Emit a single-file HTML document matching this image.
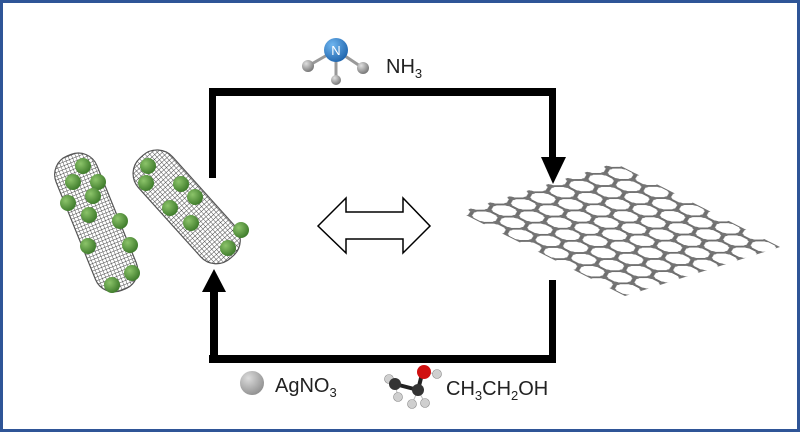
<!DOCTYPE html>
<html><head><meta charset="utf-8"><style>
html,body{margin:0;padding:0;background:#fff}
svg{display:block}
</style></head><body>
<svg width="800" height="432" viewBox="0 0 800 432" xmlns="http://www.w3.org/2000/svg">
<defs>
<pattern id="hex" patternUnits="userSpaceOnUse" width="12.5" height="21.65" x="0" y="2">
<g stroke="#6e6e6e" stroke-width="1.8" fill="none">
<path d="M0,3.61 L6.25,0 L12.5,3.61 M0,3.61 L0,10.83 M12.5,3.61 L12.5,10.83 M0,10.83 L6.25,14.44 L12.5,10.83 M6.25,14.44 L6.25,21.65"/>
</g>
<g fill="#747474">
<circle cx="0" cy="3.61" r="1.8"/><circle cx="12.5" cy="3.61" r="1.8"/><circle cx="6.25" cy="0" r="1.8"/><circle cx="6.25" cy="21.65" r="1.8"/>
<circle cx="0" cy="10.83" r="1.8"/><circle cx="12.5" cy="10.83" r="1.8"/><circle cx="6.25" cy="14.44" r="1.8"/>
</g>
</pattern>
<pattern id="mesh" patternUnits="userSpaceOnUse" width="3.5" height="3.5">
<path d="M0,0 L3.5,0 M0,0 L0,3.5" stroke="#444" stroke-width="0.9"/>
</pattern>
<radialGradient id="g" cx="0.35" cy="0.35" r="0.7"><stop offset="0" stop-color="#8cc46a"/><stop offset="1" stop-color="#3d7a2a"/></radialGradient>
<radialGradient id="ag" cx="0.35" cy="0.3" r="0.8"><stop offset="0" stop-color="#dcdcdc"/><stop offset="1" stop-color="#8a8a8a"/></radialGradient>
<radialGradient id="nb" cx="0.35" cy="0.3" r="0.8"><stop offset="0" stop-color="#6fb6f0"/><stop offset="1" stop-color="#1a5fa8"/></radialGradient>
<radialGradient id="hb" cx="0.35" cy="0.3" r="0.8"><stop offset="0" stop-color="#e0e0e0"/><stop offset="1" stop-color="#6b6b6b"/></radialGradient>
</defs>
<rect x="1.5" y="1.5" width="797" height="429" fill="#fff" stroke="#2f5597" stroke-width="3"/>

<g fill="#000">
<rect x="209" y="88" width="347" height="8"/>
<rect x="209" y="88" width="7" height="90"/>
<rect x="549" y="88" width="7" height="72"/>
<polygon points="541,157 566,157 553,184"/>
<rect x="549" y="280" width="7" height="83"/>
<rect x="209" y="355" width="347" height="8"/>
<rect x="210" y="288" width="8" height="75"/>
<polygon points="202,292 226,292 214,269"/>
</g>

<polygon points="318,226 346,198 346,212 403,212 403,198 430,226 403,253 403,239 346,239 346,253" fill="#fff" stroke="#000" stroke-width="1.5"/>

<g transform="matrix(1.55,-0.49,1.65,0.84,460,212)">
<rect x="0" y="0" width="100" height="100" fill="url(#hex)"/>
</g>

<g transform="rotate(-22 96 222)">
<rect x="74" y="150" width="44" height="145" rx="20" fill="url(#mesh)" stroke="#555" stroke-width="1.2"/>
</g>
<g transform="rotate(-42 185 205)">
<rect x="162" y="140" width="46" height="135" rx="21" fill="url(#mesh)" stroke="#555" stroke-width="1.2"/>
</g>
<g fill="url(#g)">
<circle cx="83" cy="166" r="8"/><circle cx="73" cy="182" r="8"/><circle cx="98" cy="182" r="8"/><circle cx="93" cy="196" r="8"/><circle cx="68" cy="203" r="8"/><circle cx="89" cy="215" r="8"/><circle cx="120" cy="221" r="8"/><circle cx="88" cy="246" r="8"/><circle cx="130" cy="245" r="8"/><circle cx="132" cy="273" r="8"/><circle cx="112" cy="285" r="8"/>
<circle cx="148" cy="166" r="8"/><circle cx="146" cy="183" r="8"/><circle cx="181" cy="184" r="8"/><circle cx="195" cy="197" r="8"/><circle cx="170" cy="208" r="8"/><circle cx="191" cy="223" r="8"/><circle cx="241" cy="230" r="8"/><circle cx="228" cy="248" r="8"/>
</g>

<g stroke="#999" stroke-width="3">
<line x1="336" y1="50" x2="308" y2="66"/><line x1="336" y1="50" x2="363" y2="68"/><line x1="336" y1="50" x2="336" y2="80"/>
</g>
<circle cx="308" cy="66" r="6" fill="url(#hb)"/><circle cx="363" cy="68" r="6" fill="url(#hb)"/><circle cx="336" cy="80" r="5" fill="url(#hb)"/>
<circle cx="336" cy="50" r="12" fill="url(#nb)"/>
<text x="336" y="55" font-family="Liberation Sans,sans-serif" font-size="13" fill="#fff" text-anchor="middle">N</text>
<text x="386" y="73" font-family="Liberation Sans,sans-serif" font-size="20" fill="#222">NH<tspan font-size="13" dy="5">3</tspan></text>

<circle cx="252" cy="383" r="12" fill="url(#ag)"/>
<text x="275" y="392" font-family="Liberation Sans,sans-serif" font-size="20" fill="#222">AgNO<tspan font-size="13" dy="5">3</tspan></text>

<g stroke="#222" stroke-width="4"><line x1="395" y1="384" x2="418" y2="390"/><line x1="418" y1="390" x2="422" y2="374"/></g>
<g stroke="#bbb" stroke-width="1"><line x1="395" y1="384" x2="389" y2="379"/><line x1="395" y1="384" x2="398" y2="397"/><line x1="418" y1="390" x2="412" y2="404"/><line x1="418" y1="390" x2="425" y2="403"/><line x1="424" y1="372" x2="437" y2="374"/></g>
<circle cx="389" cy="379" r="4.5" fill="#cfcfcf" stroke="#888" stroke-width="0.6"/><circle cx="398" cy="397" r="4.5" fill="#cfcfcf" stroke="#888" stroke-width="0.6"/><circle cx="412" cy="404" r="4.5" fill="#cfcfcf" stroke="#888" stroke-width="0.6"/><circle cx="425" cy="403" r="4.5" fill="#cfcfcf" stroke="#888" stroke-width="0.6"/><circle cx="437" cy="374" r="4.5" fill="#cfcfcf" stroke="#888" stroke-width="0.6"/>
<circle cx="395" cy="384" r="6" fill="#333"/><circle cx="418" cy="390" r="6" fill="#333"/>
<circle cx="424" cy="372" r="7" fill="#d01010"/>
<text x="446" y="395" font-family="Liberation Sans,sans-serif" font-size="20" fill="#222">CH<tspan font-size="13" dy="5">3</tspan><tspan dy="-5">CH</tspan><tspan font-size="13" dy="5">2</tspan><tspan dy="-5">OH</tspan></text>
</svg>
</body></html>
